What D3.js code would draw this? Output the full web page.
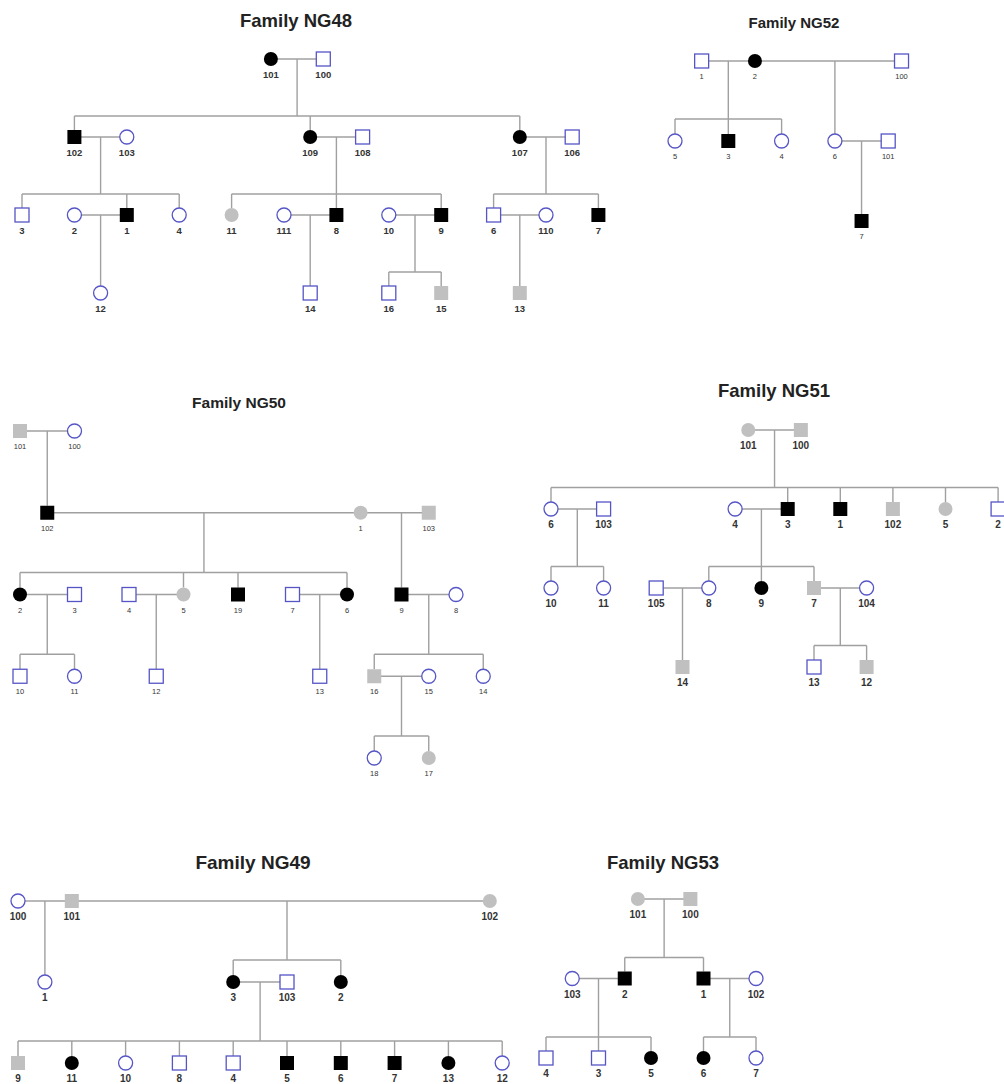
<!DOCTYPE html>
<html><head><meta charset="utf-8">
<script src="https://cdn.jsdelivr.net/npm/d3@7"></script>
<style>body{margin:0;background:#fff}svg{display:block}</style>
</head><body>
<script>
// Individuals: [id, sex (M/F), status (A=affected, G=grey, U=unaffected), generation, slot]
const ng48People = [
  ["101","F","A",0,4.75],["100","M","U",0,5.75],
  ["102","M","A",1,1],["103","F","U",1,2],["109","F","A",1,5.5],["108","M","U",1,6.5],["107","F","A",1,9.5],["106","M","U",1,10.5],
  ["3","M","U",2,0],["2","F","U",2,1],["1","M","A",2,2],["4","F","U",2,3],["11","F","G",2,4],["111","F","U",2,5],
  ["8","M","A",2,6],["10","F","U",2,7],["9","M","A",2,8],["6","M","U",2,9],["110","F","U",2,10],["7","M","A",2,11],
  ["12","F","U",3,1.5],["14","M","U",3,5.5],["16","M","U",3,7],["15","M","G",3,8],["13","M","G",3,9.5]
];
// Unions: [partner1, partner2, children, optional drop slot]
const ng48Unions = [
  ["101","100",["102","109","107"]],["102","103",["3","1","4"]],["109","108",["11","8","9"]],
  ["107","106",["6","7"]],["2","1",["12"]],["111","8",["14"]],["10","9",["16","15"]],["6","110",["13"]]
];

const ng52People = [
  ["1","M","U",0,0.5],["2","F","A",0,1.5],["100","M","U",0,4.25],
  ["5","F","U",1,0],["3","M","A",1,1],["4","F","U",1,2],["6","F","U",1,3],["101","M","U",1,4],
  ["7","M","A",2,3.5]
];
const ng52Unions = [["1","2",["5","3","4"]],["2","100",["6"]],["6","101",["7"]]];

const ng50People = [
  ["101","M","G",0,0],["100","F","U",0,1],
  ["102","M","A",1,0.5],["1","F","G",1,6.25],["103","M","G",1,7.5],
  ["2","F","A",2,0],["3","M","U",2,1],["4","M","U",2,2],["5","F","G",2,3],["19","M","A",2,4],["7","M","U",2,5],["6","F","A",2,6],
  ["9","M","A",2,7],["8","F","U",2,8],
  ["10","M","U",3,0],["11","F","U",3,1],["12","M","U",3,2.5],["13","M","U",3,5.5],["16","M","G",3,6.5],["15","F","U",3,7.5],["14","F","U",3,8.5],
  ["18","F","U",4,6.5],["17","F","G",4,7.5]
];
const ng50Unions = [
  ["101","100",["102"]],["102","1",["2","5","19","6"]],["1","103",["9"]],
  ["2","3",["10","11"]],["4","5",["12"]],["7","6",["13"]],["9","8",["16","14"]],["16","15",["18","17"]]
];

const ng51People = [
  ["101","F","G",0,3.75],["100","M","G",0,4.75],
  ["6","F","U",1,0],["103","M","U",1,1],["4","F","U",1,3.5],["3","M","A",1,4.5],["1","M","A",1,5.5],["102","M","G",1,6.5],["5","F","G",1,7.5],["2","M","U",1,8.5],
  ["10","F","U",2,0],["11","F","U",2,1],["105","M","U",2,2],["8","F","U",2,3],["9","F","A",2,4],["7","M","G",2,5],["104","F","U",2,6],
  ["14","M","G",3,2.5],["13","M","U",3,5],["12","M","G",3,6]
];
const ng51Unions = [
  ["101","100",["6","3","1","102","5","2"]],["6","103",["10","11"]],["4","3",["8","9","7"]],
  ["105","8",["14"]],["7","104",["13","12"]]
];

const ng49People = [
  ["100","F","U",0,0],["101","M","G",0,1],["102","F","G",0,8.77],
  ["1","F","U",1,0.5],["3","F","A",1,4],["103","M","U",1,5],["2","F","A",1,6],
  ["9","M","G",2,0],["11","F","A",2,1],["10","F","U",2,2],["8","M","U",2,3],["4","M","U",2,4],
  ["5","M","A",2,5],["6","M","A",2,6],["7","M","A",2,7],["13","F","A",2,8],["12","F","U",2,9]
];
const ng49Unions = [
  ["100","101",["1"]],["101","102",["3","2"],5],["3","103",["9","11","10","8","4","5","6","7","13","12"]]
];

const ng53People = [
  ["101","F","G",0,1.75],["100","M","G",0,2.75],
  ["103","F","U",1,0.5],["2","M","A",1,1.5],["1","M","A",1,3],["102","F","U",1,4],
  ["4","M","U",2,0],["3","M","U",2,1],["5","F","A",2,2],["6","F","A",2,3],["7","F","U",2,4]
];
const ng53Unions = [["101","100",["2","1"]],["103","2",["4","3","5"]],["1","102",["6","7"]]];

const familyTitles = ["Family NG48","Family NG52","Family NG50","Family NG51","Family NG49","Family NG53"];

// Layout (positions & styles), kept apart from data
const layouts = [
  {people:ng48People, unions:ng48Unions, x0:22,  step:52.4, y0:59,  row:78,    gap:21,   tx:296, ty:27,  tsize:18.5, lsize:9.5, lw:"bold"},
  {people:ng52People, unions:ng52Unions, x0:675, step:53.3, y0:61,  row:80,    gap:22,   tx:794, ty:28,  tsize:15,   lsize:7.5, lw:"normal"},
  {people:ng50People, unions:ng50Unions, x0:20,  step:54.5, y0:431, row:81.75, gap:22,   tx:239, ty:408, tsize:15.5, lsize:7.5, lw:"normal"},
  {people:ng51People, unions:ng51Unions, x0:551, step:52.6, y0:430, row:79,    gap:21.5, tx:774, ty:397, tsize:18.5, lsize:10,  lw:"bold"},
  {people:ng49People, unions:ng49Unions, x0:18,  step:53.8, y0:901, row:81,    gap:22,   tx:253, ty:869, tsize:19,   lsize:10,  lw:"bold"},
  {people:ng53People, unions:ng53Unions, x0:546, step:52.5, y0:899, row:79.5,  gap:21,   tx:663, ty:869, tsize:18.5, lsize:10,  lw:"bold"}
];

const HALF = 7, R = 7;
const LINE = "#a0a0a0", BLUE = "#5555c6", GREY = "#c0c0c0";

const svg = d3.select("body").append("svg").attr("width",1004).attr("height",1084)
  .style("font-family","'Liberation Sans', Arial, sans-serif");

layouts.forEach((L, fi) => {
  const xs = d3.scaleLinear().domain([0,1]).range([L.x0, L.x0 + L.step]);
  const ys = d3.scaleLinear().domain([0,1]).range([L.y0, L.y0 + L.row]);
  const byId = new Map(L.people.map(p => [p[0], {id:p[0], sex:p[1], st:p[2], x:xs(p[4]), y:ys(p[3])}]));
  const g = svg.append("g");
  const lines = g.append("g").attr("stroke", LINE).attr("stroke-width", 1.4).attr("fill","none");
  const seg = (x1,y1,x2,y2) => lines.append("line").attr("x1",x1).attr("y1",y1).attr("x2",x2).attr("y2",y2);

  L.unions.forEach(u => {
    const a = byId.get(u[0]), b = byId.get(u[1]);
    seg(a.x, a.y, b.x, b.y);
    const kids = u[2].map(k => byId.get(k));
    if (kids.length === 1) {
      const c = kids[0];
      seg(c.x, a.y, c.x, c.y - HALF);
    } else {
      const dx = u[3] !== undefined ? xs(u[3]) : (a.x + b.x) / 2;
      const cy = kids[0].y, sy = cy - L.gap;
      seg(dx, a.y, dx, sy);
      const xsAll = kids.map(k => k.x).concat([dx]);
      seg(d3.min(xsAll), sy, d3.max(xsAll), sy);
      kids.forEach(k => seg(k.x, sy, k.x, k.y - HALF));
    }
  });

  const people = Array.from(byId.values());
  const sym = g.append("g");
  people.forEach(p => {
    const fill = p.st === "A" ? "#000" : p.st === "G" ? GREY : "#fff";
    const stroke = p.st === "U" ? BLUE : "none";
    let el;
    if (p.sex === "M") {
      el = sym.append("rect").attr("x", p.x - HALF).attr("y", p.y - HALF).attr("width", 2*HALF).attr("height", 2*HALF);
    } else {
      el = sym.append("circle").attr("cx", p.x).attr("cy", p.y).attr("r", R);
    }
    el.attr("fill", fill).attr("stroke", stroke).attr("stroke-width", 1.3);
  });

  g.append("g").selectAll("text").data(people).join("text")
    .attr("x", d => d.x).attr("y", d => d.y + 15.5)
    .attr("text-anchor","middle").attr("dominant-baseline","central")
    .attr("font-size", L.lsize).attr("font-weight", L.lw).attr("fill","#333")
    .text(d => d.id);

  g.append("text").attr("x", L.tx).attr("y", L.ty).attr("text-anchor","middle")
    .attr("font-size", L.tsize).attr("font-weight","bold").attr("fill","#222")
    .text(familyTitles[fi]);
});
</script>
</body></html>
